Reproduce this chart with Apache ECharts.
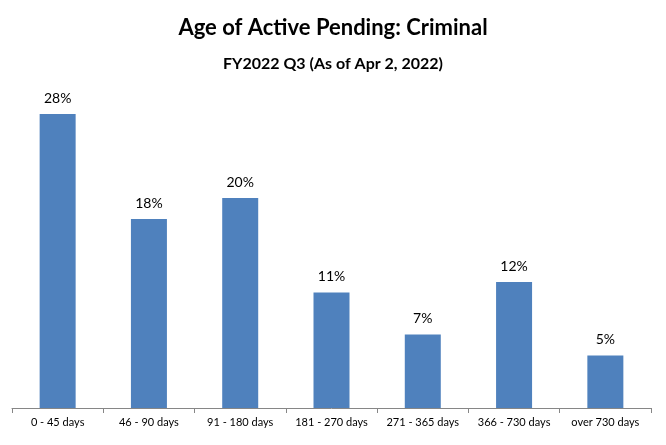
<!DOCTYPE html>
<html>
<head>
<meta charset="utf-8">
<script src="https://cdn.jsdelivr.net/npm/echarts@6/dist/echarts.min.js"></script>
<style>
  html, body { margin: 0; padding: 0; background: #fff; }
  #chart-container { width: 666px; height: 445px; }
</style>
</head>
<body>
<div id="chart-container"></div>
<script>
// data
var categories = ["0 - 45 days", "46 - 90 days", "91 - 180 days", "181 - 270 days",
                  "271 - 365 days", "366 - 730 days", "over 730 days"];
var percentValues = [28, 18, 20, 11, 7, 12, 5];

var chartDom = document.getElementById("chart-container");
var myChart = echarts.init(chartDom);

var option = {
  textStyle: { fontFamily: "Lato" },
  title: [
    {
      text: "Age of Active Pending: Criminal",
      left: "center",
      top: 12,
      textStyle: { fontSize: 22, fontWeight: "bold", color: "#000", fontFamily: "Lato" }
    },
    {
      text: "FY2022 Q3 (As of Apr 2, 2022)",
      left: "center",
      top: 51,
      textStyle: { fontSize: 16, fontWeight: "bold", color: "#000", fontFamily: "Lato" }
    }
  ],
  grid: { left: 12, right: 15, top: 93, bottom: 37 },
  xAxis: {
    type: "category",
    data: categories,
    axisLine: { lineStyle: { color: "#868686" } },
    axisTick: { show: true, alignWithLabel: false, lineStyle: { color: "#868686" } },
    axisLabel: { color: "#000", fontSize: 11, margin: 9, interval: 0 }
  },
  yAxis: {
    type: "value",
    min: 0,
    max: 30,
    show: false
  },
  series: [
    {
      name: "Age",
      type: "bar",
      data: percentValues,
      barWidth: 36,
      itemStyle: { color: "#4F81BD" },
      label: {
        show: true,
        position: "top",
        distance: 9,
        formatter: "{c}%",
        color: "#000",
        fontSize: 14
      }
    }
  ]
};

myChart.setOption(option);
</script>
</body>
</html>
